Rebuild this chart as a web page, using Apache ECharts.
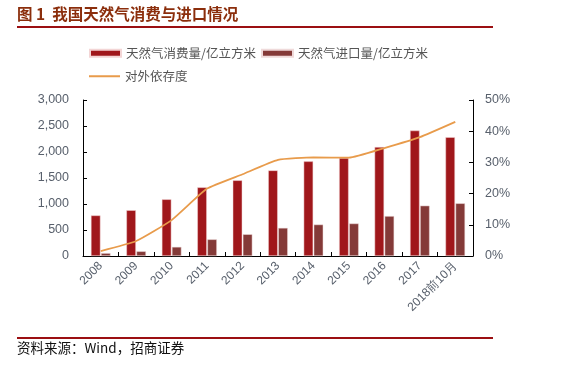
<!DOCTYPE html>
<html><head><meta charset="utf-8">
<script src="https://cdn.jsdelivr.net/npm/echarts@6/dist/echarts.min.js"></script>
<style>html,body{margin:0;padding:0;background:#fff}#c{width:562px;height:381px}</style>
</head><body><div id="c"></div>
<script>
const categories = ['2008','2009','2010','2011','2012','2013','2014','2015','2016','2017','2018前10月'];
const consumption = [780, 880, 1090, 1320, 1455, 1646, 1820, 1885, 2096, 2412, 2285];
const imports = [55, 90, 175, 320, 418, 540, 605, 625, 768, 968, 1013];
const dependence = [0.016, 0.048, 0.115, 0.216, 0.262, 0.308, 0.316, 0.315, 0.346, 0.381, 0.430];
const leftTicks = {min: 0, max: 3000, interval: 500};
const rightTicks = {min: 0, max: 0.5, interval: 0.1};
const names = ['天然气消费量/亿立方米', '天然气进口量/亿立方米', '对外依存度'];

const chart = echarts.init(document.getElementById('c'), null, {renderer: 'canvas'});
const labelColor = '#58606c';
const font = 'Liberation Sans, Arial, sans-serif';
const legendText = {fontSize: 12.5, color: '#555', fontFamily: 'Noto Sans CJK SC'};
chart.setOption({
  animation: false,
  textStyle: {fontFamily: font},
  grid: {left: 83, right: 89, top: 100, bottom: 125},
  legend: [
    {data: [names[0]], left: 84, top: 42, itemWidth: 31, itemHeight: 7, icon: 'rect', itemGap: 0, textStyle: legendText},
    {data: [names[1]], left: 256, top: 42, itemWidth: 31, itemHeight: 7, icon: 'rect', textStyle: legendText},
    {data: [{name: names[2], icon: 'rect', itemStyle: {color: '#E89B4B'}}], left: 84, top: 65, itemWidth: 31, itemHeight: 2, textStyle: legendText}
  ],
  xAxis: {
    type: 'category', data: categories,
    axisLine: {lineStyle: {color: '#000', width: 1}},
    axisTick: {show: true, inside: true, length: 4, lineStyle: {color: '#000'}},
    axisLabel: {rotate: 45, fontSize: 12, color: labelColor, margin: 8, interval: 0, fontFamily: font}
  },
  yAxis: [
    {type: 'value', min: leftTicks.min, max: leftTicks.max, interval: leftTicks.interval,
     splitLine: {show: false},
     axisLine: {show: true, lineStyle: {color: '#000'}},
     axisTick: {show: true, inside: true, length: 4, lineStyle: {color: '#000'}},
     axisLabel: {fontSize: 12.5, color: labelColor, margin: 14,
       formatter: v => v.toLocaleString('en-US')}},
    {type: 'value', min: rightTicks.min, max: rightTicks.max, interval: rightTicks.interval,
     splitLine: {show: false},
     axisLine: {show: true, lineStyle: {color: '#000'}},
     axisTick: {show: true, inside: true, length: 4, lineStyle: {color: '#000'}},
     axisLabel: {fontSize: 12.5, color: labelColor, margin: 12,
       formatter: v => Math.round(v * 100) + '%'}}
  ],
  series: [
    {name: names[0], type: 'bar', data: consumption, barWidth: 9.5, barGap: '6%',
     itemStyle: {color: '#A0171B', borderColor: '#f3d5d5', borderWidth: 0.5}},
    {name: names[1], type: 'bar', data: imports, barWidth: 9.5,
     itemStyle: {color: '#843A38', borderColor: '#efdada', borderWidth: 0.5}},
    {name: names[2], type: 'line', yAxisIndex: 1, data: dependence, smooth: 0.15,
     symbol: 'none', lineStyle: {color: '#E89B4B', width: 1.8}, itemStyle: {color: '#E89B4B'}}
  ],
  graphic: [
    {type: 'text', left: 17, top: 6, style: {text: '图 1  我国天然气消费与进口情况', fill: '#8B2E0C',
      font: 'bold 15.5px "Noto Sans CJK SC"'}},
    {type: 'rect', shape: {x: 17, y: 26, width: 476, height: 2}, style: {fill: '#9B0F12'}},
    {type: 'rect', shape: {x: 17, y: 337, width: 476, height: 2}, style: {fill: '#9B0F12'}},
    {type: 'text', left: 17, top: 341, style: {text: '资料来源：Wind，招商证券', fill: '#111',
      font: '13.5px "Noto Sans CJK SC"'}}
  ]
});
</script></body></html>
